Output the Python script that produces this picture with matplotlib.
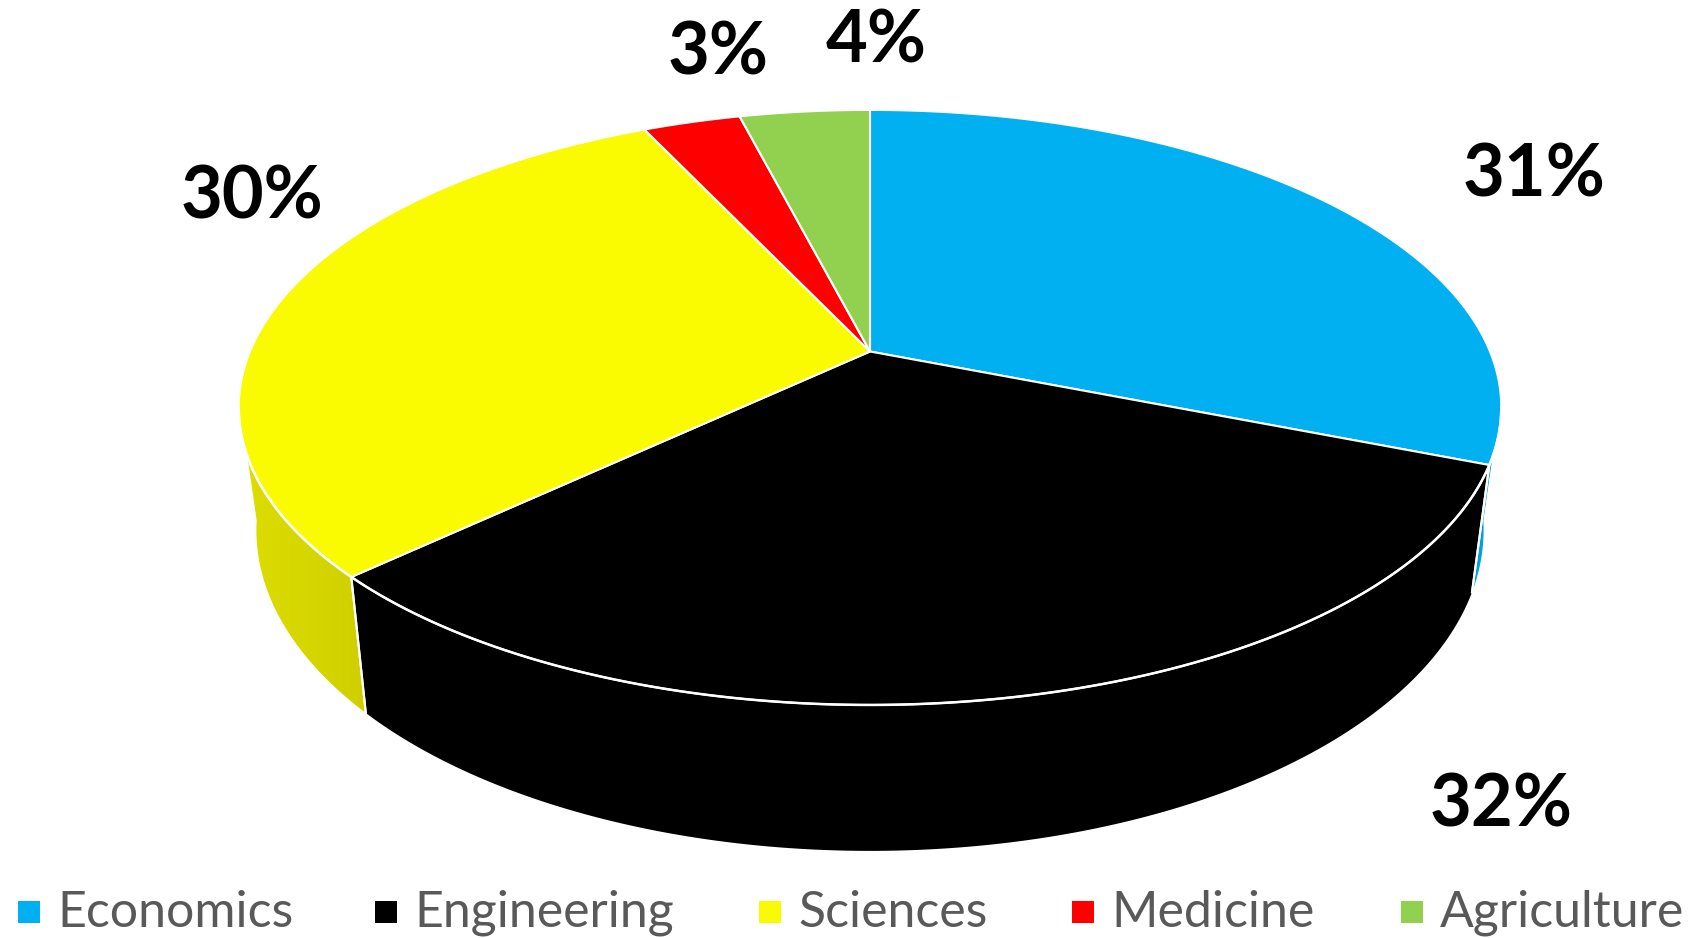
import numpy as np
import matplotlib
matplotlib.use("Agg")
import matplotlib.pyplot as plt
from matplotlib.patches import Polygon, Rectangle
from matplotlib.colors import to_rgb

# ---------------- data ----------------
categories = ["Economics", "Engineering", "Sciences", "Medicine", "Agriculture"]
shares = [31, 32, 30, 3, 4]
labels = ["31%", "32%", "30%", "3%", "4%"]
colors = ["#00B0F0", "#000000", "#FAFA00", "#FF0000", "#92D050"]
wall_light = ["#00A6E2", "#000000", "#DEDE00", "#E00000", "#84BE48"]
wall_dark = ["#0094C8", "#000000", "#CFCF00", "#C80000", "#76AA40"]

# ---------------- layout ----------------
W, H = 1706, 938
cx, cy = 870, 351.5      # apex of pie (pixels)
R, S = 620, 287          # horizontal / vertical radii of the top face
k = 0.188                # perspective factor
depth = 118.5            # thickness of the pie
bottom_shrink = 0.972
label_pos = [(1534, 176), (1501, 806), (252, 198), (718, 54), (876, 42)]

fig = plt.figure(figsize=(W / 100, H / 100), dpi=100)
ax = fig.add_axes([0, 0, 1, 1])
ax.set_xlim(0, W)
ax.set_ylim(H, 0)
ax.axis("off")


def top_pt(theta):
    u, v = np.cos(theta), np.sin(theta)
    d = 1 + k * v
    return cx + R * u / d, cy - S * v / d


def bot_pt(theta):
    u, v = np.cos(theta), np.sin(theta)
    d = 1 + k * v
    return cx + bottom_shrink * R * u / d, cy - S * v / d + depth / d


total = float(sum(shares))
start = np.pi / 2
bounds = []
for s in shares:
    end = start - 2 * np.pi * s / total
    bounds.append((start, end))
    start = end

# walls (outer side) -- only the front part is visible
vis_lo, vis_hi = -np.pi + np.arcsin(k), -np.arcsin(k)
for (a0, a1), wl, wd in zip(bounds, wall_light, wall_dark):
    for shift in (0, -2 * np.pi, 2 * np.pi):
        h2, l2 = a0 + shift, a1 + shift
        h2c, l2c = min(h2, vis_hi + 0.03), max(l2, vis_lo - 0.03)
        if h2c > l2c:
            t = np.linspace(h2c, l2c, 200)
            tx, ty = top_pt(t)
            bx, by = bot_pt(t[::-1])
            pts = np.column_stack([np.r_[tx, bx], np.r_[ty, by]])
            poly = Polygon(pts, closed=True, facecolor="none",
                           edgecolor="none", zorder=2)
            ax.add_patch(poly)
            x0, x1 = pts[:, 0].min(), pts[:, 0].max()
            y0, y1 = pts[:, 1].min(), pts[:, 1].max()
            c0, c1 = np.array(to_rgb(wl)), np.array(to_rgb(wd))
            g = np.linspace(0, 1, 256)[None, :, None]
            img = c0[None, None, :] * (1 - g) + c1[None, None, :] * g
            im = ax.imshow(img, extent=(x0 - 1, x1 + 1, y1 + 1, y0 - 1),
                           aspect="auto", zorder=2, interpolation="bilinear")
            im.set_clip_path(poly)
            for a in (h2, l2):
                if vis_lo < a < vis_hi:
                    xa, ya = top_pt(a)
                    xb, yb = bot_pt(a)
                    ax.plot([xa, xb], [ya, yb], color="white", lw=1.5, zorder=3)

ax.set_xlim(0, W)
ax.set_ylim(H, 0)

# top face
for (a0, a1), c in zip(bounds, colors):
    t = np.linspace(a0, a1, 300)
    tx, ty = top_pt(t)
    xs = np.r_[cx, tx]
    ys = np.r_[cy, ty]
    ax.add_patch(Polygon(np.column_stack([xs, ys]), closed=True,
                         facecolor=c, edgecolor="white", lw=1.5, zorder=4))

# white front rim of top face
t = np.linspace(vis_lo, vis_hi, 300)
rx, ry = top_pt(t)
ax.plot(rx, ry, color="white", lw=1.8, zorder=5)

# percentage labels
for lab, (lx, ly) in zip(labels, label_pos):
    ax.text(lx, ly, lab, ha="center", va="center", fontsize=52,
            fontweight="bold", family="Lato", color="black", zorder=6)

# legend
leg_marker_x = [29, 386, 770, 1083, 1412]
leg_y = 912
sq = 22
for name, c, mx in zip(categories, colors, leg_marker_x):
    ax.add_patch(Rectangle((mx - sq / 2, leg_y - sq / 2), sq, sq,
                           facecolor=c, edgecolor="none", zorder=6))
    ax.text(mx + sq / 2 + 17, leg_y + 1, name, ha="left", va="center",
            fontsize=36, family="Lato", color="#595959", zorder=6)

fig.savefig("out.png", dpi=100, facecolor="white")
